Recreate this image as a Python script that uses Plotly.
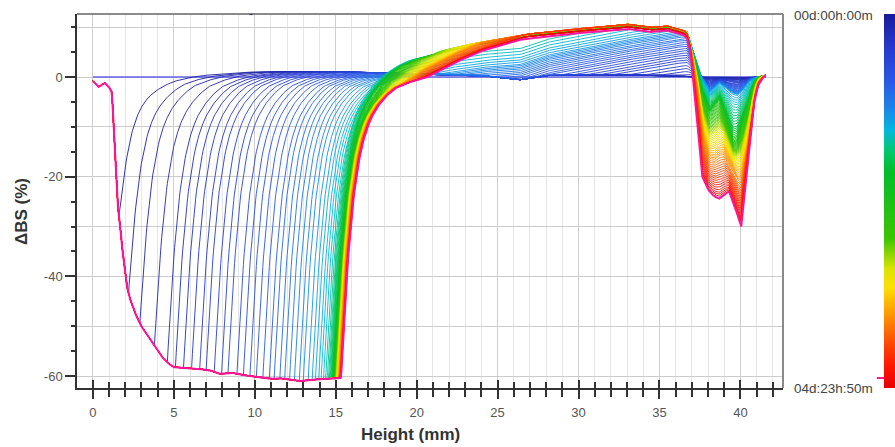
import numpy as np
import plotly.graph_objects as go
from plotly.colors import sample_colorscale

# ---------------- data ----------------
# Bottom envelope (floor) of the profiles, Height (mm) -> dBS (%)
ENV_X = [0.0, 0.15, 0.35, 0.55, 0.75, 0.95, 1.1, 1.17, 1.3, 1.4,
         1.55, 1.67, 1.8, 2.0, 2.2, 2.5, 2.9, 3.3, 3.7, 4.1,
         4.5, 4.95, 5.5, 6.0, 6.6, 7.2, 7.8, 8.5, 9.2, 9.7,
         10.3, 10.9, 11.5, 12.2, 12.8, 13.5, 14.2, 14.7, 15.0, 15.4]
ENV_Y = [-0.8, -1.2, -2.0, -1.5, -1.2, -1.8, -2.6, -3.0, -10.0, -17.0,
         -26.0, -29.0, -34.0, -40.0, -43.5, -46.5, -49.5, -51.5, -53.5, -55.5,
         -57.0, -58.2, -58.3, -58.4, -58.6, -58.8, -59.6, -59.3, -59.8, -60.0,
         -60.3, -60.6, -60.4, -60.8, -61.0, -60.7, -60.6, -60.5, -60.4, -60.4]

# Shape of a clarification front: fraction of floor depth left vs distance above front (mm)
RISE_D = [0, 0.1, 0.2, 0.3, 0.45, 0.6, 0.8, 1.0, 1.25, 1.5, 1.8, 2.2, 2.7, 3.3, 4.0, 5.0, 6.5, 8.0]
RISE_R = [1.0, 0.9, 0.8, 0.71, 0.6, 0.5, 0.4, 0.32, 0.25, 0.2, 0.155, 0.115, 0.08, 0.05, 0.032, 0.015, 0.005, 0.0]

# Level of the profiles once the front has passed
BASE_X = [0, 2, 4, 6, 8, 10, 12, 14, 16, 18, 20, 22, 24, 25.3, 26.3, 27.2, 28, 30, 33, 36, 37, 41.6]
BASE_Y = [0, 0, 0.3, 0.6, 0.8, 1.0, 1.1, 1.1, 1.0, 0.8, 0.6, 0.5, 0.3, -0.2, -0.6, -0.1, 0.3, 0.4, 0.4, 0.3, 0, 0]

# Upper envelope of the creaming zone
TOP_X = [0, 10, 12, 14, 16, 17.7, 19, 20.2, 22, 23.7, 25.1, 26.8, 28.8, 29.6, 31.7, 33.0, 34.4, 35.4, 36.2, 36.8, 41.6]
TOP_Y = [1.5, 1.5, 1.8, 2.3, 2.9, 3.4, 4.3, 4.8, 5.8, 6.8, 7.6, 8.6, 9.2, 9.6, 10.2, 10.6, 9.9, 10.3, 9.6, 9.0, 9.0]

# Top-of-sample dip, at four stages of the run
DIP_X = [36.5, 36.9, 37.3, 37.65, 37.9, 38.1, 38.4, 38.7, 39.0, 39.3, 39.55, 39.8, 40.05, 40.3, 40.55, 40.8, 41.05, 41.3, 41.55]
DIP_BLUE = [0, 0, 0, -0.3, -1.5, -3.0, -2.2, -1.2, -1.8, -2.8, -3.3, -3.6, -3.0, -1.8, -0.8, -0.3, 0, 0, 0]
DIP_GREEN = [0, 0, -1.0, -3.5, -5.8, -7.0, -5.8, -4.4, -7.0, -10.5, -13.0, -12.5, -10.0, -7.5, -5.0, -1.5, 0, 0.2, 0.3]
DIP_ORANGE = [0, -0.5, -3.5, -10.5, -14.0, -15.5, -15.5, -14.5, -14.5, -16.5, -18.0, -19.0, -19.5, -16.0, -11.0, -5.0, -1.2, 0, 0.3]
DIP_RED = [0, -1.0, -10.0, -20.0, -22.0, -23.0, -24.0, -24.4, -23.5, -23.0, -25.0, -27.5, -30.0, -22.0, -13.5, -6.0, -2.0, -0.5, 0.4]

# Per scan (scan 1 .. 99; scan 0 is the flat reference)
FRONT = [1.62, 2.2, 2.9, 3.8, 4.6, 5.1, 5.6, 6.1, 6.6, 7.0,
         7.5, 7.95, 8.35, 8.9, 9.3, 9.7, 10.1, 10.5, 10.9, 11.2,
         11.55, 11.85, 12.15, 12.45, 12.75, 13.0, 13.3, 13.55, 13.75, 13.95,
         14.1, 14.25, 14.38, 14.48, 14.56, 14.62, 14.67, 14.71, 14.75, 14.78,
         14.81, 14.83, 14.85, 14.87, 14.88, 14.89, 14.9, 14.91, 14.92, 14.93,
         14.94, 14.95, 14.96, 14.97, 14.98, 14.985, 14.99, 14.995, 15.0, 15.0,
         15.01, 15.02, 15.03, 15.04, 15.05, 15.06, 15.07, 15.08, 15.09, 15.1,
         15.11, 15.12, 15.13, 15.14, 15.15, 15.16, 15.17, 15.18, 15.19, 15.2,
         15.21, 15.22, 15.23, 15.24, 15.25, 15.26, 15.27, 15.28, 15.28, 15.29,
         15.29, 15.3, 15.3, 15.31, 15.31, 15.32, 15.32, 15.33, 15.33]
RAMP_START = [40, 40, 40, 40, 40, 40, 36, 35, 34, 33,
              32, 31.2, 30.4, 29.6, 28.8, 28.0, 27.3, 26.6, 25.9, 25.2,
              24.6, 24.0, 23.4, 22.8, 22.3, 21.8, 21.3, 20.6, 19.8, 19.0,
              18.0, 17.0, 16.0, 15.0, 14.6, 14.3, 14.0, 14.0, 14.2, 14.5,
              15.0, 15.2, 15.4, 15.6, 15.8, 16.0, 16.2, 16.4, 16.5, 16.6,
              16.7, 16.8, 16.9, 17.0, 17.1, 17.2, 17.3, 17.4, 17.5, 17.6,
              17.7, 17.8, 17.9, 18.0, 18.1, 18.2, 18.3, 18.4, 18.5, 18.6,
              18.7, 18.8, 18.9, 19.0, 19.05, 19.1, 19.15, 19.2, 19.25, 19.3,
              19.35, 19.4, 19.5, 19.6, 19.7, 19.8, 19.9, 20.0, 20.1, 20.2,
              20.2, 20.25, 20.3, 20.3, 20.35, 20.4, 20.4, 20.45, 20.5]
RAMP_SLOPE = [0.6] * 33 + [1.4] * 66
CAP_DROP = [0.0] * 33 + [0.3] * 27 + [0.0] * 30 + [0.5] * 8 + [0.9]
DIP_STAGE = [0.05, 0.08, 0.1, 0.13, 0.16, 0.2, 0.24, 0.28, 0.32, 0.36,
             0.4, 0.44, 0.48, 0.52, 0.56, 0.6, 0.64, 0.68, 0.72, 0.76,
             0.8, 0.83, 0.86, 0.89, 0.92, 0.95, 0.98, 1.02, 1.07, 1.12,
             1.17, 1.22, 1.28, 1.34, 1.4, 1.46, 1.52, 1.58, 1.64, 1.7,
             1.74, 1.78, 1.82, 1.86, 1.9, 1.93, 1.96, 1.99, 2.02, 2.05,
             2.08, 2.11, 2.14, 2.17, 2.2, 2.23, 2.26, 2.29, 2.32, 2.35,
             2.38, 2.41, 2.44, 2.47, 2.5, 2.53, 2.56, 2.6, 2.64, 2.68,
             2.72, 2.76, 2.8, 2.84, 2.88, 2.92, 2.96, 3.0, 3.04, 3.08,
             3.12, 3.17, 3.22, 3.27, 3.32, 3.37, 3.42, 3.47, 3.52, 3.57,
             3.62, 3.67, 3.72, 3.77, 3.82, 3.87, 3.91, 3.95, 4.0]

X_TICKS = [0, 5, 10, 15, 20, 25, 30, 35, 40]
Y_TICKS = [-60, -40, -20, 0]
TIME_LABELS = ["00d:00h:00m", "04d:23h:50m"]

CS = [[0.00, '#1a1a9a'], [0.08, '#2536c8'], [0.18, '#2a58e6'], [0.26, '#1a8ae8'],
      [0.31, '#00b8e0'], [0.36, '#00c87a'], [0.42, '#00be2a'], [0.60, '#3cc400'],
      [0.68, '#d8e400'], [0.73, '#ffe000'], [0.80, '#ff9a00'], [0.88, '#ff4a00'],
      [0.94, '#ff1800'], [1.0, '#e60000']]
LAST_COLOR = '#ff149a'
REF_COLOR = '#6464e8'

# ---------------- build profiles ----------------
X = np.round(np.arange(0, 41.551, 0.05), 3)
env = np.interp(X, ENV_X, ENV_Y)
base = np.interp(X, BASE_X, BASE_Y)
topcap = np.interp(X, TOP_X, TOP_Y)
fade = np.interp(X, [36.7, 37.6], [1.0, 0.0])
dips = [np.zeros_like(X)] + [np.interp(X, DIP_X, d, left=0, right=d[-1])
                             for d in (DIP_BLUE, DIP_GREEN, DIP_ORANGE, DIP_RED)]

n_scan = len(FRONT) + 1
fig = go.Figure()
fig.add_trace(go.Scatter(x=X, y=np.zeros_like(X), mode='lines',
                         line=dict(color=REF_COLOR, width=1.5), hoverinfo='skip'))
for i in range(1, n_scan):
    f = FRONT[i - 1]
    s = RAMP_START[i - 1]
    k = RAMP_SLOPE[i - 1]
    c = CAP_DROP[i - 1]
    g = DIP_STAGE[i - 1]
    d = X - f
    r = np.interp(d, RISE_D, RISE_R, left=1.0, right=0.0)
    ef = np.interp(f, ENV_X, ENV_Y)
    front = np.where(d < 0, env, ef * r)
    w = np.where(d < 0, 0.0, 1.0 - r)
    ramp = np.clip(k * (X - s), 0, None)
    top = np.minimum(base + ramp, topcap - c)
    lo = min(int(np.floor(g)), 3)
    fr = g - lo
    dip = (1 - fr) * dips[lo] + fr * dips[lo + 1]
    y = front + w * top * fade + dip
    t = i / (n_scan - 1)
    if i == n_scan - 1:
        col, lw = LAST_COLOR, 2.0
    else:
        col, lw = sample_colorscale(CS, [t])[0], 0.9
    fig.add_trace(go.Scatter(x=X, y=y, mode='lines', line=dict(color=col, width=lw),
                             hoverinfo='skip'))

# colour bar (time), top = start, bottom = end
CS_REV = [[1 - p, col] for p, col in CS][::-1]
fig.add_trace(go.Scatter(x=[None], y=[None], mode='markers',
                         marker=dict(color=[0], cmin=0, cmax=1, colorscale=CS_REV, showscale=True,
                                     colorbar=dict(x=1.1431, xanchor='left', xref='paper', y=0.5, yanchor='middle',
                                                   len=1.0, lenmode='fraction', thickness=22,
                                                   thicknessmode='pixels', xpad=0, ypad=0,
                                                   outlinewidth=0, showticklabels=False, ticks='')),
                         hoverinfo='skip'))
# helper traces for the overlay axes
fig.add_trace(go.Scatter(x=[None], y=[None], xaxis='x2', yaxis='y', hoverinfo='skip'))
fig.add_trace(go.Scatter(x=[None], y=[None], xaxis='x', yaxis='y2', hoverinfo='skip'))

XR = [-0.98, 42.63]
YR = [-62.4, 12.64]
tickfont = dict(family='Liberation Sans, Arial, sans-serif', size=13, color='#555555')
fig.update_layout(
    width=895, height=447,
    margin=dict(l=77, r=112, t=14, b=59, autoexpand=False),
    plot_bgcolor='white', paper_bgcolor='white', showlegend=False,
    font=dict(family='Liberation Sans, Arial, sans-serif', size=13, color='#555555'),
    xaxis=dict(range=XR, tickmode='array', tickvals=X_TICKS, ticks='outside', ticklen=9,
               tickwidth=1.5, tickcolor='#333333', showgrid=True, gridcolor='#cfcfcf', gridwidth=1,
               minor=dict(tickmode='linear', tick0=0, dtick=1, ticks='outside', ticklen=7,
                          tickwidth=1.5, tickcolor='#333333', showgrid=True, gridcolor='#e6e6e6'),
               showline=True, linecolor='#333333', linewidth=1.5, zeroline=False,
               ticklabelstandoff=3, tickfont=tickfont),
    xaxis2=dict(range=XR, overlaying='x', anchor='y', side='bottom', tickmode='array',
                tickvals=X_TICKS, ticks='inside', ticklen=8, tickwidth=1.5, tickcolor='#333333',
                showticklabels=False, showgrid=False, zeroline=False, showline=False,
                minor=dict(tickmode='linear', tick0=0, dtick=1, ticks='inside', ticklen=6,
                           tickwidth=1.5, tickcolor='#333333', showgrid=False)),
    yaxis=dict(range=YR, tickmode='array', tickvals=Y_TICKS, ticktext=[str(v) for v in Y_TICKS],
               ticks='outside', ticklen=10, tickwidth=1.5, tickcolor='#333333',
               showgrid=True, gridcolor='#cccccc', gridwidth=1,
               minor=dict(tickmode='linear', tick0=0, dtick=10, ticks='', showgrid=True,
                          gridcolor='#cccccc'),
               showline=True, linecolor='#333333', linewidth=1.5, zeroline=False,
               tickfont=tickfont),
    yaxis2=dict(range=YR, overlaying='y', anchor='x', side='left', tickmode='linear', tick0=0,
                dtick=5, ticks='outside', ticklen=5, tickwidth=1.5, tickcolor='#333333',
                showticklabels=False, showgrid=False, zeroline=False, showline=False),
)

fig.add_shape(type='line', xref='paper', yref='paper', x0=0, x1=1, y0=1, y1=1,
              line=dict(color='#8a8a8a', width=2))
fig.add_shape(type='line', xref='paper', yref='paper', x0=1, x1=1, y0=0, y1=1,
              line=dict(color='#8a8a8a', width=2))
fig.add_shape(type='line', xref='paper', yref='paper', x0=1.133, x1=1.2, y0=0.027, y1=0.027,
              line=dict(color=LAST_COLOR, width=2))

title_font = dict(family='Liberation Sans, Arial, sans-serif', size=17, color='#333333')
fig.add_annotation(text='<b>Height (mm)</b>', xref='paper', yref='paper', x=0.4717, y=-0.123,
                   showarrow=False, font=title_font, xanchor='center', yanchor='middle')
fig.add_annotation(text='<b>ΔBS (%)</b>', xref='paper', yref='paper', x=-0.0779, y=0.4706,
                   showarrow=False, font=title_font, textangle=-90, xanchor='center', yanchor='middle')
lab_font = dict(family='Liberation Sans, Arial, sans-serif', size=13.5, color='#444444')
fig.add_annotation(text=TIME_LABELS[0], xref='paper', yref='paper', x=1.071, y=0.9947,
                   showarrow=False, font=lab_font, xanchor='center', yanchor='middle')
fig.add_annotation(text=TIME_LABELS[1], xref='paper', yref='paper', x=1.071, y=0.0,
                   showarrow=False, font=lab_font, xanchor='center', yanchor='middle')
fig.add_annotation(text='-', xref='paper', yref='paper', x=0.241, y=1.024,
                   showarrow=False, font=dict(size=12, color='#333333'))

fig.write_html("out.html", config={'displayModeBar': False},
               post_script="document.body.style.margin='0';")
